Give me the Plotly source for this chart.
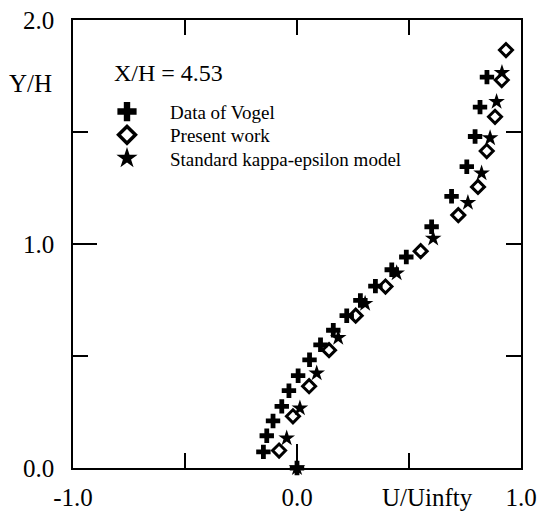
import plotly.graph_objects as go

# ---- data ----
vogel_u = [0.0, -0.15, -0.135, -0.107, -0.068, -0.036, 0.005, 0.056, 0.105, 0.162, 0.222,
           0.283, 0.35, 0.423, 0.488, 0.601, 0.69, 0.758, 0.795, 0.817, 0.848]
vogel_y = [0.0, 0.072, 0.144, 0.21, 0.275, 0.345, 0.412, 0.483, 0.55, 0.615, 0.68,
           0.748, 0.812, 0.885, 0.942, 1.077, 1.213, 1.345, 1.48, 1.611, 1.745]

present_u = [-0.08, -0.018, 0.054, 0.143, 0.262, 0.395, 0.552, 0.72, 0.808, 0.847,
             0.884, 0.914, 0.933]
present_y = [0.078, 0.231, 0.365, 0.526, 0.68, 0.81, 0.968, 1.129, 1.255, 1.415,
             1.568, 1.732, 1.866]

ke_u = [0.0, -0.046, 0.013, 0.088, 0.184, 0.304, 0.445, 0.608, 0.763, 0.824, 0.862,
        0.891, 0.915]
ke_y = [0.0, 0.133, 0.267, 0.423, 0.582, 0.734, 0.87, 1.025, 1.184, 1.316, 1.473,
        1.635, 1.765]

series_names = ["Data of Vogel", "Present work", "Standard kappa-epsilon model"]
x_ticks = [-1.0, 0.0, 1.0]
x_ticktext = ["-1.0", "0.0", "1.0"]
y_ticks = [0.0, 1.0, 2.0]
y_ticktext = ["0.0", "1.0", "2.0"]

FONT = "Liberation Serif"
W, H = 539, 514
ML, MR, MT, MB = 73, 18, 20, 46
PW, PH = W - ML - MR, H - MT - MB


def px_x(p):
    return (p - ML) / PW


def px_y(p):
    return (H - MB - p) / PH


fig = go.Figure()

fig.add_trace(go.Scatter(x=vogel_u, y=vogel_y, mode="markers", showlegend=False,
                         cliponaxis=False,
                         marker=dict(symbol="cross", size=12, color="black")))
fig.add_trace(go.Scatter(x=present_u, y=present_y, mode="markers", showlegend=False,
                         cliponaxis=False,
                         marker=dict(symbol="diamond-open", size=10, color="black",
                                     line=dict(width=3, color="black"))))
fig.add_trace(go.Scatter(x=ke_u, y=ke_y, mode="markers", showlegend=False,
                         cliponaxis=False,
                         marker=dict(symbol="star", size=12.5, color="black")))

# legend entries (larger symbols as in the reference), one legend box per entry
legend_syms = [dict(symbol="cross", size=16, color="black"),
               dict(symbol="diamond-open", size=13, color="black",
                    line=dict(width=3.5, color="black")),
               dict(symbol="star", size=16, color="black")]
legend_ids = ["legend", "legend2", "legend3"]
legend_rows = [111.7, 135.0, 158.3]
for name, sym, lid in zip(series_names, legend_syms, legend_ids):
    fig.add_trace(go.Scatter(x=[None], y=[None], mode="markers", name=name,
                             marker=sym, legend=lid))

# helper trace for the mirrored (top / right) axes
fig.add_trace(go.Scatter(x=[None], y=[None], xaxis="x2", yaxis="y2",
                         showlegend=False, hoverinfo="skip"))

axis_common = dict(showgrid=False, zeroline=False, showline=True, linecolor="black",
                   linewidth=1.6, ticks="inside", tickcolor="black", tickwidth=1.5,
                   automargin=False)

legend_style = dict(xanchor="left", yanchor="middle", bgcolor="rgba(0,0,0,0)",
                    itemwidth=76, font=dict(family=FONT, size=19, color="black"))

fig.update_layout(
    width=W, height=H,
    margin=dict(l=ML, r=MR, t=MT, b=MB, autoexpand=False),
    paper_bgcolor="white", plot_bgcolor="white",
    font=dict(family=FONT, color="black", size=25),
    xaxis=dict(range=[-1, 1], tickvals=x_ticks, ticktext=x_ticktext, ticklen=24,
               tickfont=dict(size=25, family=FONT), ticklabelstandoff=6,
               minor=dict(tickvals=[-0.5, 0.5], ticks="inside", ticklen=15,
                          tickwidth=1.5, tickcolor="black"),
               **axis_common),
    yaxis=dict(range=[0, 2], tickvals=y_ticks, ticktext=y_ticktext, ticklen=24,
               tickfont=dict(size=25, family=FONT), ticklabelstandoff=12,
               minor=dict(tickvals=[0.5, 1.5], ticks="inside", ticklen=15,
                          tickwidth=1.5, tickcolor="black"),
               **axis_common),
    xaxis2=dict(range=[-1, 1], overlaying="x", side="top", anchor="y",
                tickvals=[-0.5, 0.0, 0.5], ticklen=15, showticklabels=False,
                **axis_common),
    yaxis2=dict(range=[0, 2], overlaying="y", side="right", anchor="x",
                tickvals=[0.5, 1.0, 1.5], ticklen=15, showticklabels=False,
                **axis_common),
    legend=dict(x=px_x(84), y=px_y(legend_rows[0]), **legend_style),
    legend2=dict(x=px_x(84), y=px_y(legend_rows[1]), **legend_style),
    legend3=dict(x=px_x(84), y=px_y(legend_rows[2]), **legend_style),
    annotations=[
        dict(text="Y/H", x=px_x(30), y=px_y(83), xref="paper", yref="paper",
             xanchor="center", yanchor="middle",
             showarrow=False, font=dict(size=25, family=FONT)),
        dict(text="U/Uinfty", x=px_x(427), y=px_y(497), xref="paper", yref="paper",
             xanchor="center", yanchor="middle",
             showarrow=False, font=dict(size=25, family=FONT)),
        dict(text="X/H = 4.53", x=px_x(112), y=px_y(73), xref="paper", yref="paper",
             xanchor="left", yanchor="middle", showarrow=False,
             font=dict(size=24, family=FONT)),
    ],
)

fig.write_html("out.html")
